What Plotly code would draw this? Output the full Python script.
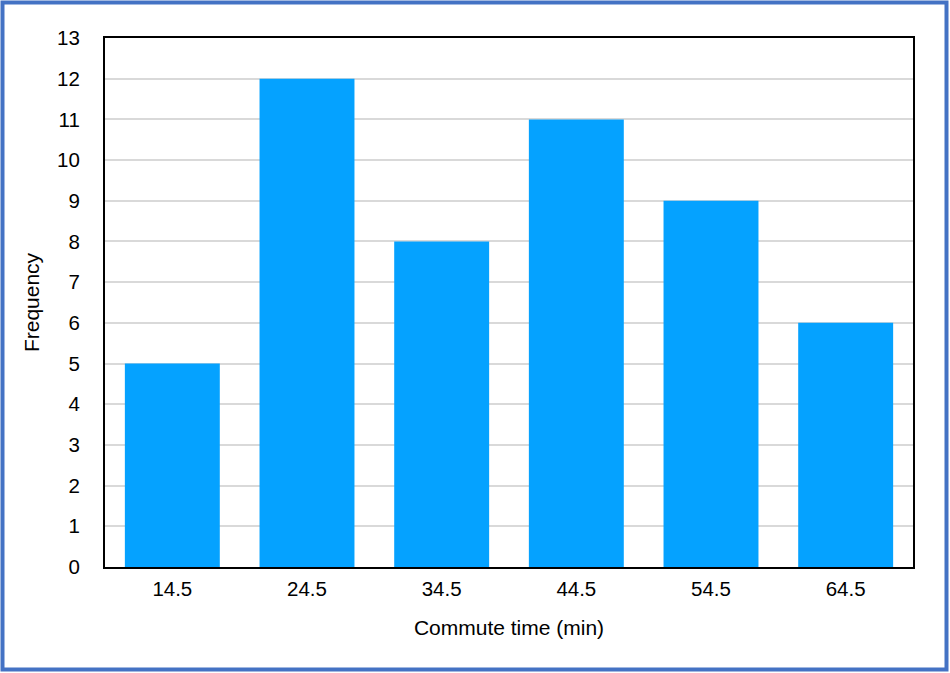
import plotly.graph_objects as go

categories = ["14.5", "24.5", "34.5", "44.5", "54.5", "64.5"]
frequency = [5, 12, 8, 11, 9, 6]
y_ticks = list(range(0, 14))

W, H = 950, 673
L, R, T, B = 105, 37, 38, 106
pw, ph = W - L - R, H - T - B

def px_x(p):
    return (p - L) / pw

def px_y(p):
    return (H - B - p) / ph

fig = go.Figure(go.Bar(x=categories, y=frequency, marker=dict(color="#05A2FF", line=dict(width=0))))

font = "Liberation Sans, Arial, Helvetica, sans-serif"
fs = 20.5
fig.update_layout(
    width=W, height=H,
    margin=dict(l=L, r=R, t=T, b=B),
    paper_bgcolor="white", plot_bgcolor="white",
    bargap=0.295,
    showlegend=False,
    font=dict(family=font, size=fs, color="black"),
    shapes=[dict(type="rect", xref="paper", yref="paper",
                 x0=px_x(2.5), x1=px_x(946.5), y0=px_y(2.5), y1=px_y(669.5),
                 line=dict(color="#4472C4", width=4), fillcolor="rgba(0,0,0,0)", layer="above")],
)
fig.update_xaxes(
    title=dict(text="Commute time (min)", standoff=22, font=dict(size=21)),
    showline=True, linecolor="black", linewidth=2, mirror=True,
    showgrid=False, ticks="", ticklabelstandoff=2,
    tickfont=dict(size=fs),
)
fig.update_yaxes(
    title=dict(text="Frequency", standoff=12, font=dict(size=21)),
    range=[0, 13], tickvals=y_ticks, ticktext=[str(v) for v in y_ticks],
    showline=True, linecolor="black", linewidth=2, mirror=True,
    showgrid=True, gridcolor="#D9D9D9", gridwidth=1.5,
    zeroline=False, ticks="", ticklabelstandoff=19,
    tickfont=dict(size=fs),
)

fig.write_html("out.html")
